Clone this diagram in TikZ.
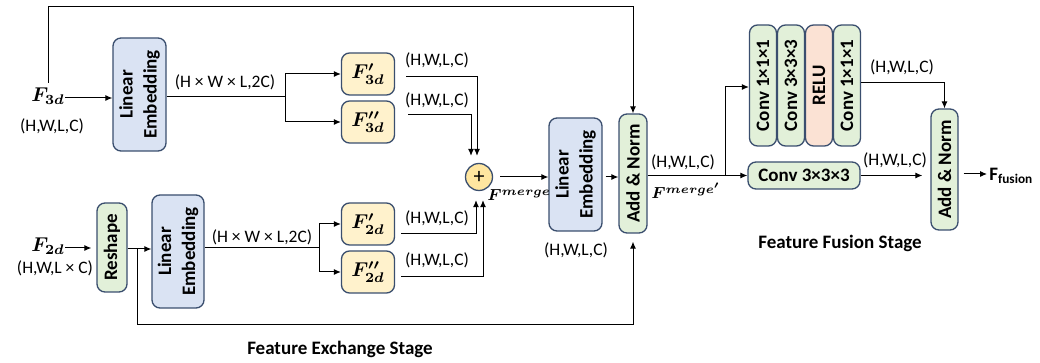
\documentclass[tikz,border=0pt]{standalone}
\usepackage[no-math]{fontspec}
\setmainfont{Carlito}
\usetikzlibrary{arrows.meta,calc}
\definecolor{edgec}{RGB}{58,78,110}
\definecolor{bluef}{RGB}{218,227,243}
\definecolor{greenf}{RGB}{226,240,217}
\definecolor{yellowf}{RGB}{255,242,204}
\definecolor{pinkf}{RGB}{251,226,212}
\definecolor{circf}{RGB}{255,230,160}
\begin{document}
\begin{tikzpicture}[x=0.5pt,y=-0.5pt,
  box/.style={draw=edgec, line width=0.65pt, rounded corners=4pt, inner sep=0pt},
  btxt/.style={font=\fontsize{9.5}{12}\selectfont\bfseries, align=center, inner sep=0pt},
  blubox/.style={box, fill=bluef, minimum width=26.5pt, minimum height=56.5pt},
  grnbox/.style={box, fill=greenf},
  ylwbox/.style={box, fill=yellowf, minimum width=26.5pt, minimum height=21pt, font=\fontsize{10}{12}\selectfont\boldmath},
  arr/.style={-{Latex[length=3.5pt,width=3pt]}, line width=0.5pt},
  ln/.style={line width=0.5pt},
  lbl/.style={font=\fontsize{8.75}{10}\selectfont, inner sep=0pt},
  mth/.style={font=\fontsize{10}{12}\selectfont\boldmath, inner sep=0pt},
  smth/.style={font=\fontsize{8.2}{10}\selectfont\boldmath, inner sep=0pt},
  stage/.style={font=\fontsize{9.5}{11}\selectfont\bfseries, inner sep=0pt}
]
\useasboundingbox (0,0) rectangle (1040,363);

% ---------- 3D branch ----------
\node[mth, anchor=base] (f3d) at (48,102) {$F_{3d}$};
\node[lbl] (s3d) at (52,126) {(H,W,L,C)};
\node[blubox, label={[btxt,rotate=90]center:Linear\\Embedding}] (le1) at (139.5,94.5) {};
\draw[arr] (f3d.east |- 0,98) -- (le1.west |- 0,98);
\coordinate (b1) at (285,97);
\draw[ln] (le1.east |- 0,97) -- (b1);
\node[lbl] (d1) at (225,82) {(H × W × L,2C)};

\node[ylwbox] (f3a) at (368,74) {$F'_{3d}$};
\node[ylwbox] (f3b) at (368,122) {$F''_{3d}$};
\draw[arr] (b1) |- (f3a.west);
\draw[arr] (b1) |- (f3b.west);

% ---------- 2D branch ----------
\node[mth, anchor=base] (f2d) at (48,252) {$F_{2d}$};
\node[lbl] (s2d) at (55,268) {(H,W,L × C)};
\node[grnbox, minimum width=15pt, minimum height=44.5pt,
      label={[btxt,rotate=90]center:Reshape}] (rs) at (112,247.5) {};
\draw[arr] (f2d.east |- 0,248) -- ($(rs.west |- 0,248)+(-5,0)$);
\coordinate (b3) at (137,249);
\node[blubox, minimum width=26pt, label={[btxt,rotate=90]center:Linear\\Embedding}] (le3) at (178,251.5) {};
\draw[ln] (rs.east |- 0,249) -- (b3);
\draw[arr] (b3) -- (le3.west |- 0,249);
\coordinate (b4) at (319,248);
\draw[ln] (le3.east |- 0,248) -- (b4);
\node[lbl] (d2) at (262,237) {(H × W × L,2C)};

\node[ylwbox] (f2a) at (368,224) {$F'_{2d}$};
\node[ylwbox] (f2b) at (368,272) {$F''_{2d}$};
\draw[arr] (b4) |- (f2a.west);
\draw[arr] (b4) |- (f2b.west);

% ---------- merge ----------
\node[circle, draw=edgec, fill=circf, line width=0.65pt, minimum size=13.5pt, inner sep=0pt,
      font=\fontsize{11}{11}\selectfont] (plus) at (479,177) {+};
\draw[arr] ($(f3a.east)+(11,3)$) -| ($(plus.north)+(-2,-7)$);
\draw[arr] ($(f3b.east)+(13,-7)$) -| ($(plus.north)+(-8,-7)$);
\draw[arr] ($(f2a.east)+(6,10)$) -| ($(plus.south)+(-3,9)$);
\draw[arr] ($(f2b.east)+(6,5)$) -| ($(plus.south)+(4,9)$);
\node[lbl] (l1) at (437,60) {(H,W,L,C)};
\node[lbl] (l2) at (437,100) {(H,W,L,C)};
\node[lbl] (l3) at (437,218) {(H,W,L,C)};
\node[lbl] (l4) at (437,260) {(H,W,L,C)};

\node[blubox, label={[btxt,rotate=90]center:Linear\\Embedding}] (le2) at (575.5,174.5) {};
\draw[arr] ($(plus.east)+(7,0)$) -- (le2.west |- plus);
\node[lbl] (s_le2) at (576,250) {(H,W,L,C)};
\node[smth, anchor=base west] (fm) at (487,201) {$F^{merge}$};

\node[grnbox, minimum width=14pt, minimum height=59.5pt,
      label={[btxt,rotate=90]center:Add \& Norm}] (an1) at (633,173.5) {};
\draw[arr] ($(le2.east |- 0,177)+(3,0)$) -- (an1.west |- 0,177);
\draw[arr] (f3d.north |- 0,83) |- (an1.north |- 0,7) -- (an1.north);
\draw[arr] (b3) |- ($(an1.south)+(0,91)$) -- ($(an1.south)+(0,8)$);

\node[stage] (st1) at (340,349) {Feature Exchange Stage};

% ---------- fusion ----------
\node[grnbox, minimum width=13.5pt, minimum height=60.5pt,
      label={[btxt,rotate=90]center:Conv 1×1×1}] (c1) at (763,85.5) {};
\node[grnbox, minimum width=13.5pt, minimum height=60.5pt,
      label={[btxt,rotate=90]center:Conv 3×3×3}] (c2) at (791,85.5) {};
\node[box, fill=pinkf, minimum width=13.5pt, minimum height=60.5pt,
      label={[btxt,rotate=90]center:RELU}] (c3) at (819,85.5) {};
\node[grnbox, minimum width=13.5pt, minimum height=60.5pt,
      label={[btxt,rotate=90]center:Conv 1×1×1}] (c4) at (847,85.5) {};
\node[grnbox, minimum width=56pt, minimum height=13.5pt, btxt] (cb) at (804,175.5) {Conv 3×3×3};

\coordinate (b5) at (725,175.5);
\draw[ln] (an1.east |- b5) -- (b5);
\draw[arr] (b5) -- (cb.west);
\draw[arr] (b5) |- (c1.west |- 0,87);
\node[lbl] (l5) at (683,162) {(H,W,L,C)};
\node[smth, anchor=base west] (fm2) at (651,199) {$F^{merge'}$};

\node[grnbox, minimum width=13.5pt, minimum height=60.5pt,
      label={[btxt,rotate=90]center:Add \& Norm}] (an2) at (944.5,169.5) {};
\draw[arr] (c4.east |- 0,83) -| (an2.north);
\node[lbl] (l6) at (902,67) {(H,W,L,C)};
\draw[arr] (cb.east) -- ($(an2.west |- cb.east)+(-8,0)$);
\node[lbl] (l7) at (895,160) {(H,W,L,C)};

\node[anchor=west, inner sep=0pt, font=\fontsize{9.5}{11}\selectfont\bfseries] (ff) at (989,176) {F\textsubscript{fusion}};
\draw[arr] ($(an2.east |- 0,174)+(5,0)$) -- ($(ff.west |- 0,174)+(-2,0)$);

\node[stage] (st2) at (840,243) {Feature Fusion Stage};
\end{tikzpicture}
\end{document}
